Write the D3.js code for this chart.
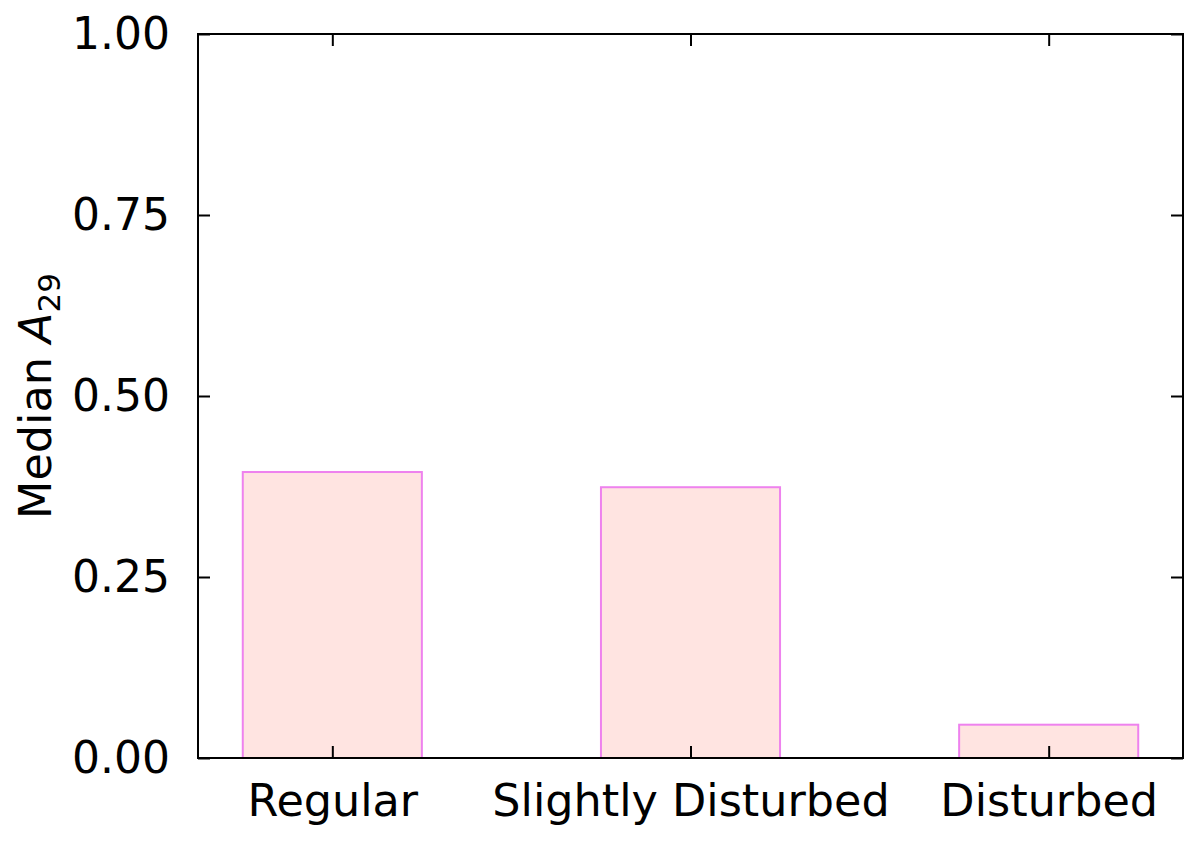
<!DOCTYPE html>
<html>
<head>
<meta charset="utf-8">
<script src="https://cdn.jsdelivr.net/npm/d3@7"></script>
<style>
  body { margin: 0; background: #fff; }
  text { font-family: "DejaVu Sans", sans-serif; fill: #000; }
</style>
</head>
<body>
<div id="chart"></div>
<script>
// categories and median values
const categories = ["Regular", "Slightly Disturbed", "Disturbed"];
const medianValues = [0.395, 0.374, 0.046];
const yTicks = [0, 0.25, 0.5, 0.75, 1.0];

document.addEventListener("DOMContentLoaded", function () {
  const widthValue = 1200;
  const heightValue = 846;
  const margin = { top: 34, right: 17, bottom: 88, left: 198 };
  const width = widthValue - margin.left - margin.right;
  const height = heightValue - margin.top - margin.bottom;

  const svg = d3.select("#chart")
    .append("svg")
    .attr("width", widthValue)
    .attr("height", heightValue);

  const g = svg.append("g")
    .attr("transform", `translate(${margin.left}, ${margin.top})`);

  // matplotlib-like bar positions: index 0..n-1, width 0.5, 5% margins
  const barWidth = 0.5;
  const lo = -barWidth / 2, hi = categories.length - 1 + barWidth / 2;
  const pad = (hi - lo) * 0.05;
  const xScale = d3.scaleLinear().domain([lo - pad, hi + pad]).range([0, width]);
  const yScale = d3.scaleLinear().domain([0, 1]).range([height, 0]);

  // bars
  g.append("g")
    .selectAll("rect")
    .data(medianValues)
    .enter()
    .append("rect")
      .attr("x", (d, i) => xScale(i - barWidth / 2))
      .attr("y", d => yScale(d))
      .attr("width", (d, i) => xScale(i + barWidth / 2) - xScale(i - barWidth / 2))
      .attr("height", d => height - yScale(d))
      .style("fill", "#FFE4E1")
      .style("stroke", "#EE82EE")
      .style("stroke-width", 2);

  const tickLen = 12;
  const fontSize = 44.5;

  // bottom axis (inward ticks)
  const xAxis = g.append("g")
    .attr("transform", `translate(0, ${height})`)
    .call(d3.axisBottom(xScale)
      .tickValues(d3.range(categories.length))
      .tickFormat(i => categories[i])
      .tickSizeInner(-tickLen)
      .tickSizeOuter(0)
      .tickPadding(26));
  xAxis.selectAll("text").style("font-size", fontSize + "px").attr("dy", "0.71em");

  // top axis (ticks only)
  g.append("g")
    .call(d3.axisTop(xScale)
      .tickValues(d3.range(categories.length))
      .tickFormat("")
      .tickSizeInner(-tickLen)
      .tickSizeOuter(0));

  // left axis
  const yAxis = g.append("g")
    .call(d3.axisLeft(yScale)
      .tickValues(yTicks)
      .tickFormat(d3.format(".2f"))
      .tickSizeInner(-tickLen)
      .tickSizeOuter(0)
      .tickPadding(28));
  yAxis.selectAll("text").style("font-size", "44px");

  // right axis (ticks only)
  g.append("g")
    .attr("transform", `translate(${width}, 0)`)
    .call(d3.axisRight(yScale)
      .tickValues(yTicks)
      .tickFormat("")
      .tickSizeInner(-tickLen)
      .tickSizeOuter(0));

  g.selectAll(".domain").remove();
  g.selectAll(".tick line").style("stroke", "#000").style("stroke-width", 2);

  // frame
  g.append("rect")
    .attr("width", width)
    .attr("height", height)
    .style("fill", "none")
    .style("stroke", "#000")
    .style("stroke-width", 2);

  // y label
  const yLabel = svg.append("text")
    .attr("transform", `translate(51, ${margin.top + height / 2}) rotate(-90)`)
    .attr("text-anchor", "middle")
    .style("font-size", fontSize + "px");
  yLabel.append("tspan").text("Median ");
  yLabel.append("tspan").style("font-style", "italic").text("A");
  yLabel.append("tspan").attr("dy", 9).style("font-size", "31px").text("29");
});
</script>
</body>
</html>
